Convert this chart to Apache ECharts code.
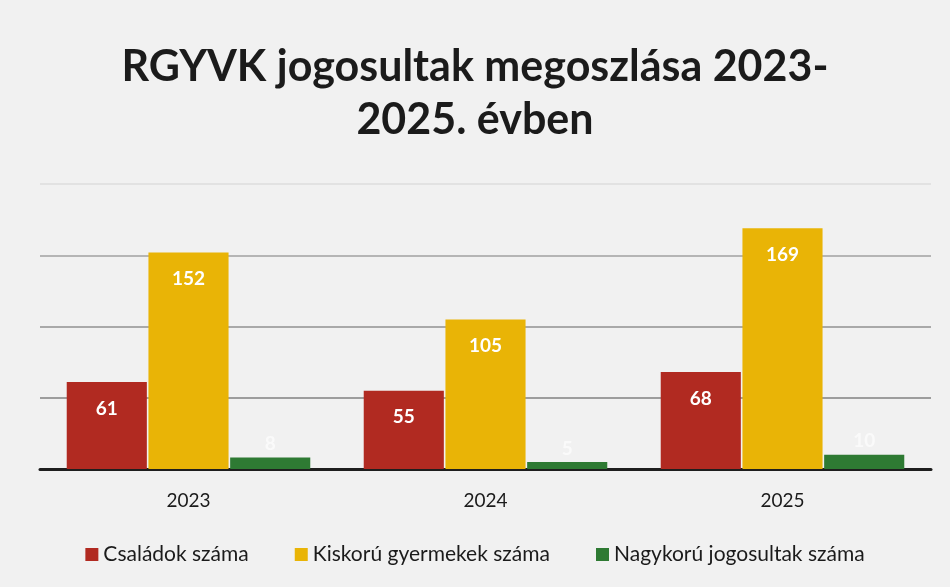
<!DOCTYPE html>
<html><head><meta charset="utf-8">
<script src="https://cdn.jsdelivr.net/npm/echarts@6/dist/echarts.min.js"></script>
<style>html,body{margin:0;padding:0;background:#f1f1f1}#c{width:950px;height:587px}</style>
</head><body><div id="c"></div>
<script>
const categories = ['2023', '2024', '2025'];
const csaladok = [61, 55, 68];
const kiskoru = [152, 105, 169];
const nagykoru = [8, 5, 10];
const seriesNames = ['Családok száma', 'Kiskorú gyermekek száma', 'Nagykorú jogosultak száma'];
const colors = ['#b12a21', '#e9b406', '#2e7a33'];
const FONT = 'Lato';
const chart = echarts.init(document.getElementById('c'));
const insideLabel = {show: true, position: 'insideTop', distance: 17, color: '#fff', fontFamily: FONT, fontWeight: 'bold', fontSize: 19};
chart.setOption({
  backgroundColor: '#f1f1f1',
  title: {text: 'RGYVK jogosultak megoszlása 2023-\n2025. évben', left: 'center', top: 36,
    textStyle: {fontFamily: FONT, fontWeight: 'bold', fontSize: 43, color: '#1b1b1b', lineHeight: 53}},
  legend: {bottom: 17, left: 'center', itemWidth: 13, itemHeight: 13, itemGap: 46, icon: 'rect',
    textStyle: {fontFamily: FONT, fontSize: 21, color: '#1b1b1b'}},
  grid: {left: 40, right: 19, top: 184, bottom: 118},
  xAxis: {type: 'category', data: categories,
    axisLine: {lineStyle: {color: '#1e1e1e', width: 3}}, axisTick: {show: false},
    axisLabel: {fontFamily: FONT, fontSize: 19, color: '#1b1b1b', margin: 22}},
  yAxis: {type: 'value', min: 0, max: 200, interval: 50, axisLabel: {show: false},
    axisLine: {show: false}, axisTick: {show: false},
    splitLine: {lineStyle: {color: ['#808080', '#808080', '#909090', '#a0a0a0', '#dcdcdc'], width: 1.5}}},
  series: [
    {name: seriesNames[0], type: 'bar', data: csaladok, itemStyle: {color: colors[0]}, barGap: '2%', barCategoryGap: '18%', label: insideLabel},
    {name: seriesNames[1], type: 'bar', data: kiskoru, itemStyle: {color: colors[1]}, barGap: '2%', barCategoryGap: '18%', label: insideLabel},
    {name: seriesNames[2], type: 'bar', data: nagykoru, itemStyle: {color: colors[2]}, barGap: '2%', barCategoryGap: '18%',
      label: {show: true, position: 'top', distance: 4, color: '#fafafa', fontFamily: FONT, fontWeight: 'bold', fontSize: 19}}
  ]
});
</script></body></html>
